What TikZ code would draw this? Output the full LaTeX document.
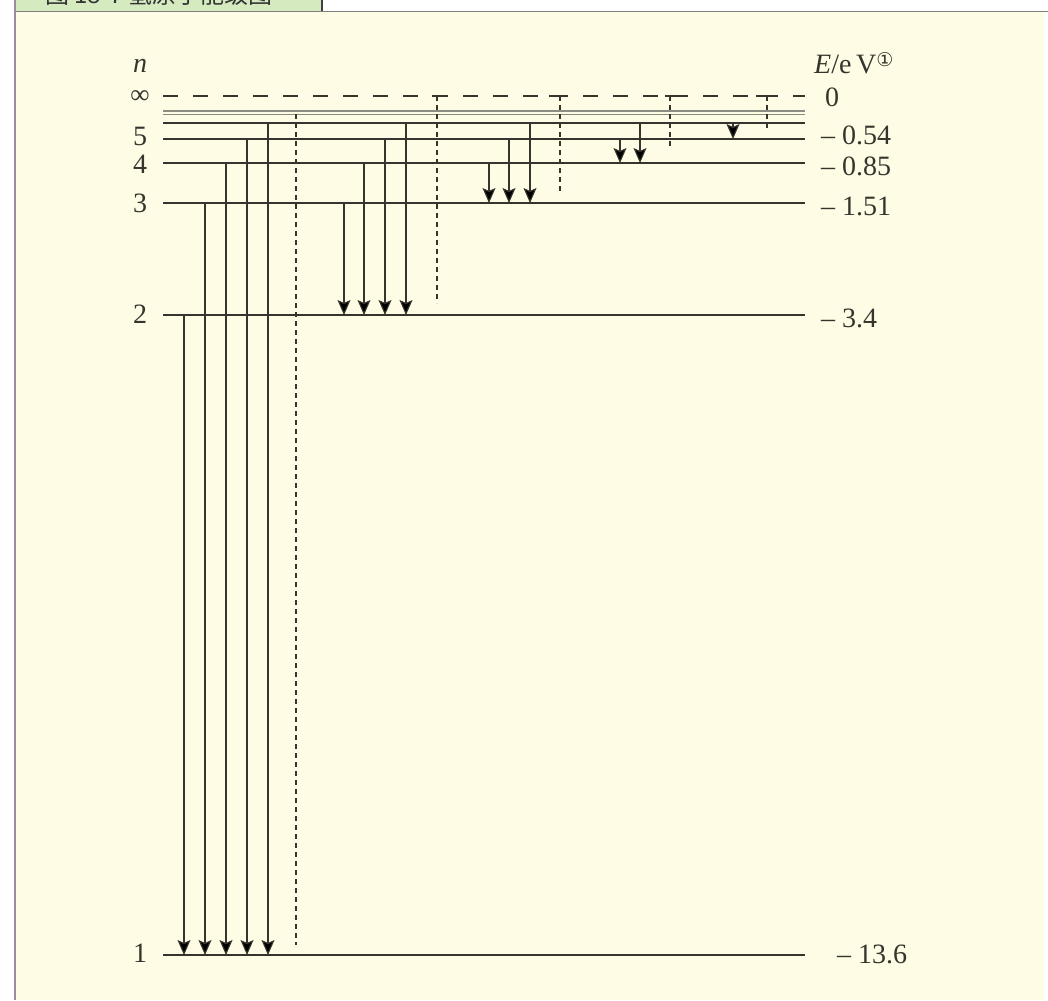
\documentclass[tikz,border=0pt]{standalone}
\usepackage{fontspec}
\setmainfont{Liberation Serif}
\newfontfamily\cjkfont{Noto Sans CJK SC}
\newfontfamily\djfont{DejaVu Sans}
\usetikzlibrary{arrows.meta}
\definecolor{bgyel}{HTML}{FEFCE4}
\definecolor{capgreen}{HTML}{D6EAC0}
\definecolor{lvcol}{HTML}{35352D}
\definecolor{edgecol}{HTML}{9A8C9A}
\definecolor{dbl}{HTML}{8C8C80}
\begin{document}
\begin{tikzpicture}[x=1pt,y=-1pt,
  level/.style={line width=1.3pt, draw=lvcol},
  dbllevel/.style={line width=1.1pt, draw=dbl},
  inflevel/.style={line width=1.3pt, draw=lvcol, dash pattern=on 15pt off 15pt},
  trans/.style={line width=1.1pt, draw=lvcol, -{Stealth[length=15pt,width=13pt,inset=3pt,fill=black]}},
  limit/.style={line width=1.1pt, draw=lvcol, dash pattern=on 5pt off 4pt},
  lab/.style={font=\fontsize{28}{30}\selectfont, text=lvcol, inner sep=0pt}]
\useasboundingbox (0,0) rectangle (1048,1000);
\fill[white] (0,0) rectangle (1048,1000);
\fill[bgyel] (15,12) rectangle (1044,1000);
% caption strip
\fill[capgreen] (15,0) rectangle (322,11);
\begin{scope}
\clip (15,0) rectangle (322,10.5);
\node[font=\cjkfont\fontsize{24}{24}\selectfont, text=black!80, anchor=base west, inner sep=0pt] (cap) at (45,4) {图 18-7 氢原子能级图};
\end{scope}
\draw[gray, line width=1.5pt] (15,11.5) -- (1048,11.5);
\draw[darkgray, line width=1.5pt] (322,0) -- (322,11);
\draw[edgecol, line width=2pt] (15,0) -- (15,1000);

% energy levels
\draw[inflevel] (163,96) -- (805,96);
\draw[dbllevel] (163,111) -- (805,111);
\draw[dbllevel] (163,114.5) -- (805,114.5);
\draw[level] (163,123) -- (805,123);
\draw[level] (163,139) -- (805,139);
\draw[level] (163,163) -- (805,163);
\draw[level] (163,203) -- (805,203);
\draw[level] (163,315) -- (805,315);
\draw[level] (163,955) -- (805,955);

% series limits
\draw[limit] (296,114) -- (296,945);
\draw[limit] (437,96) -- (437,303);
\draw[limit] (560,96) -- (560,193);
\draw[limit] (670,96) -- (670,148);
\draw[limit] (767,96) -- (767,128);
\draw[line width=1.1pt, draw=lvcol] (432,96) -- (442,96);
\draw[line width=1.1pt, draw=lvcol] (549,96) -- (560,96);
\draw[line width=1.1pt, draw=lvcol] (665,96) -- (675,96);
\draw[line width=1.1pt, draw=lvcol] (756,96) -- (767,96);

% Lyman
\draw[trans] (184,315) -- (184,955);
\draw[trans] (205,203) -- (205,955);
\draw[trans] (226,163) -- (226,955);
\draw[trans] (247,139) -- (247,955);
\draw[trans] (268,123) -- (268,955);
% Balmer
\draw[trans] (344,203) -- (344,315);
\draw[trans] (364,163) -- (364,315);
\draw[trans] (385,139) -- (385,315);
\draw[trans] (406,123) -- (406,315);
% Paschen
\draw[trans] (489,163) -- (489,203);
\draw[trans] (509,139) -- (509,203);
\draw[trans] (530,123) -- (530,203);
% Brackett
\draw[trans] (620,139) -- (620,163);
\draw[trans] (640,123) -- (640,163);
% Pfund
\draw[trans] (733,123) -- (733,139);

% left labels
\node[lab] (nlab) at (140,66) {\textit{n}};
\node[lab, font=\fontsize{27}{27}\selectfont] (ninf) at (140,97) {∞};
\node[lab] (n5) at (140,136) {5};
\node[lab] (n4) at (140,164) {4};
\node[lab] (n3) at (140,203) {3};
\node[lab] (n2) at (140,314) {2};
\node[lab] (n1) at (140,953) {1};

% right labels
\node[lab, anchor=west] (elab) at (814,63) {\textit{E}/e\,V\raisebox{7pt}{\djfont\fontsize{19}{19}\selectfont ①}};
\node[lab] (e0) at (832,97) {0};
\node[lab, anchor=west] (e5) at (821,135) {– 0.54};
\node[lab, anchor=west] (e4) at (821,166) {– 0.85};
\node[lab, anchor=west] (e3) at (821,206) {– 1.51};
\node[lab, anchor=west] (e2) at (821,318) {– 3.4};
\node[lab, anchor=west] (e1) at (837,954) {– 13.6};
\end{tikzpicture}
\end{document}
